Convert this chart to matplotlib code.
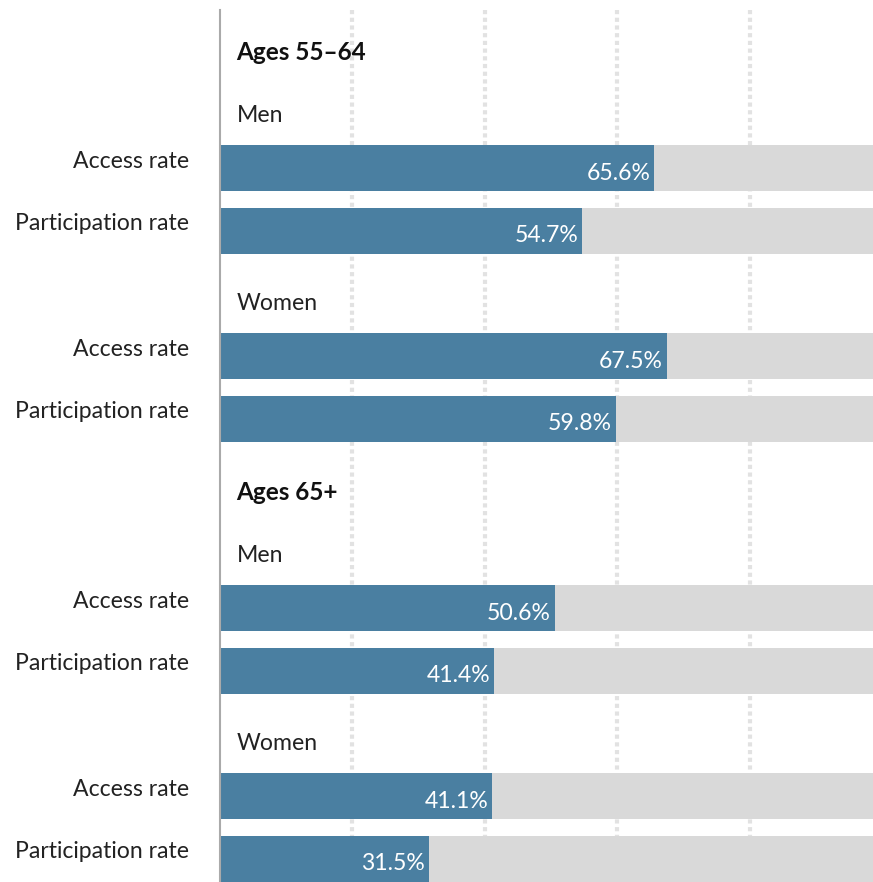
import matplotlib
matplotlib.use("Agg")
import matplotlib.pyplot as plt

plt.rcParams['font.family'] = ['Lato', 'DejaVu Sans']

age_groups = ["Ages 55–64", "Ages 65+"]
sexes = ["Men", "Women"]
measures = ["Access rate", "Participation rate"]
# values[age][sex] = [access, participation]
values_55_64 = {"Men": [65.6, 54.7], "Women": [67.5, 59.8]}
values_65_plus = {"Men": [50.6, 41.4], "Women": [41.1, 31.5]}
values = [values_55_64, values_65_plus]

bar_color = "#4a7fa1"
track_color = "#d9d9d9"
grid_color = "#e2e2e2"

W, H = 873, 882
fig = plt.figure(figsize=(W / 100, H / 100), dpi=100)
# axes spans x from the baseline at 220px to 100% at ~882px (cropped by the figure edge)
x0, x100 = 220, 882
ax = fig.add_axes([x0 / W, 0, (x100 - x0) / W, 1])
ax.set_xlim(0, 100)
ax.set_ylim(H, 0)
ax.axis("off")

# vertical layout (in pixel units from the top)
bar_h = 46
y = 52
rows = []
for gi, grp in enumerate(age_groups):
    rows.append(("group", grp, y))
    y += 62
    for si, sex in enumerate(sexes):
        rows.append(("sex", sex, y))
        y += 54
        for mi, m in enumerate(measures):
            rows.append(("bar", (m, values[gi][sex][mi]), y))
            y += 63
        y += 8
    y += 2

# gridlines
for gx in [20, 40, 60, 80]:
    ax.plot([gx, gx], [10, H], color=grid_color, lw=3, ls=(0, (1, 0.85)),
            zorder=0, solid_capstyle="butt", dash_capstyle="butt")
ax.plot([0, 0], [10, H], color="#aaaaaa", lw=1.5, zorder=3, clip_on=False)

label_fs = 16.6
for kind, content, yc in rows:
    if kind == "group":
        ax.text(2.5, yc + 1, content, fontsize=17.5, fontweight="bold",
                va="center", ha="left", color="#111111")
    elif kind == "sex":
        ax.text(2.5, yc + 2, content, fontsize=label_fs, va="center", ha="left",
                color="#222222")
    else:
        name, val = content
        ax.barh(yc, 100, height=bar_h, color=track_color, zorder=1)
        ax.barh(yc, val, height=bar_h, color=bar_color, zorder=2)
        ax.text(val - 0.6, yc + 5, f"{val:.1f}%", fontsize=label_fs,
                color="white", ha="right", va="center", zorder=4)
        fig.text(189 / W, 1 - (yc - 7) / H, name, fontsize=label_fs,
                 ha="right", va="center", color="#222222")

fig.savefig("out.png", dpi=100)
